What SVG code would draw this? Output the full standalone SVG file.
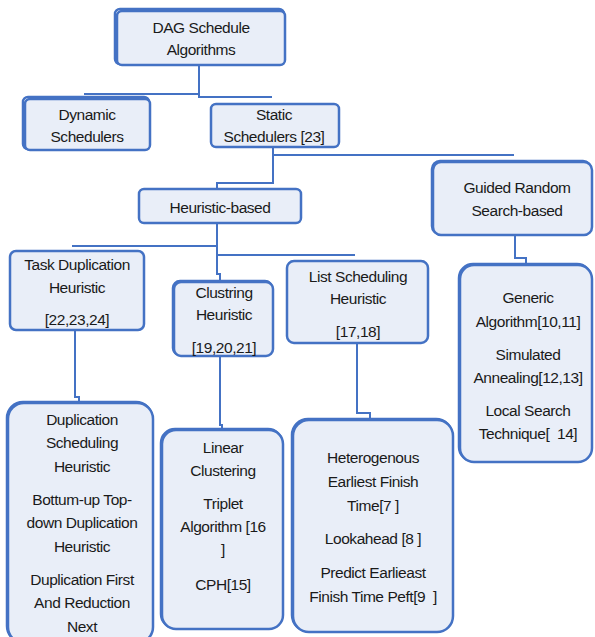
<svg xmlns="http://www.w3.org/2000/svg" width="595" height="637" viewBox="0 0 595 637">
<style>
.box{fill:#E9EEF8;stroke:#4472C4;stroke-width:2.5}
.sh{fill:none;stroke:#4472C4;stroke-width:2.5}
.c{fill:none;stroke:#4472C4;stroke-width:2}
text{font-family:"Liberation Sans",Arial,sans-serif;font-size:15.5px;letter-spacing:-0.45px;fill:#1a1a1a;text-anchor:middle;white-space:pre}
</style>
<rect width="595" height="637" fill="#ffffff"/>
<g id="connectors">
<path class="c" d="M199 65 V94 H84 M199 94 V97 H272"/>
<path class="c" d="M273 147 V183 H217 V190 M273 155 H514"/>
<path class="c" d="M217 223 V274 H220 V282 M72 246 H217 M217 255 H355"/>
<path class="c" d="M75 330 V397 H79 V403"/>
<path class="c" d="M220 356 V425 H222 V430"/>
<path class="c" d="M357 343 V413 H370 V420"/>
<path class="c" d="M515 235 V258 H526 V265"/>
</g>
<g id="n-root">
<rect class="sh" x="116" y="10" width="169" height="55" rx="5" transform="translate(-1,-1)"/>
<rect class="box" x="117" y="11" width="168" height="54" rx="5"/>
<text x="201" y="33">DAG Schedule</text>
<text x="201" y="55">Algorithms</text>
</g>
<g id="n-dynamic">
<rect class="sh" x="24" y="98" width="126" height="52" rx="5" transform="translate(-1,-1)"/>
<rect class="box" x="25" y="99" width="125" height="51" rx="5"/>
<text x="87" y="120">Dynamic</text>
<text x="87" y="142">Schedulers</text>
</g>
<g id="n-static">
<rect class="box" x="211" y="104" width="128" height="43" rx="5"/>
<text x="274" y="120">Static</text>
<text x="274" y="142">Schedulers [23]</text>
</g>
<g id="n-guided">
<rect class="sh" x="433" y="162" width="159" height="73" rx="8" transform="translate(-1,-1)"/>
<rect class="box" x="433" y="162" width="159" height="73" rx="8"/>
<text x="517" y="193">Guided Random</text>
<text x="517" y="216">Search-based</text>
</g>
<g id="n-heuristic">
<rect class="box" x="139" y="189" width="162" height="34" rx="5"/>
<text x="220" y="213">Heuristic-based</text>
</g>
<g id="n-taskdup">
<rect class="box" x="10" y="251" width="134" height="79" rx="6"/>
<text x="77" y="270">Task Duplication</text>
<text x="77" y="293">Heuristic</text>
<text x="77" y="325">[22,23,24]</text>
</g>
<g id="n-clustering">
<rect class="sh" x="174" y="282" width="99" height="74" rx="7" transform="translate(-1,-1)"/>
<rect class="box" x="174" y="282" width="99" height="74" rx="7"/>
<text x="224" y="298">Clustring</text>
<text x="224" y="320">Heuristic</text>
<text x="224" y="353">[19,20,21]</text>
</g>
<g id="n-list">
<rect class="box" x="287" y="261" width="141" height="82" rx="7"/>
<text x="358" y="282">List Scheduling</text>
<text x="358" y="304">Heuristic</text>
<text x="358" y="337">[17,18]</text>
</g>
<g id="n-guided-list">
<rect class="sh" x="460" y="265" width="132" height="197" rx="14" transform="translate(-1,-1)"/>
<rect class="box" x="460" y="265" width="132" height="197" rx="14"/>
<text x="528" y="303">Generic</text>
<text x="528" y="327">Algorithm[10,11]</text>
<text x="528" y="360">Simulated</text>
<text x="528" y="383">Annealing[12,13]</text>
<text x="528" y="416">Local Search</text>
<text x="528" y="439" xml:space="preserve">Technique[  14]</text>
</g>
<g id="n-dup-list">
<rect class="sh" x="8" y="403" width="145" height="240" rx="16" transform="translate(-1,-1)"/>
<rect class="box" x="8" y="403" width="145" height="240" rx="16"/>
<text x="82" y="425">Duplication</text>
<text x="82" y="448">Scheduling</text>
<text x="82" y="472">Heuristic</text>
<text x="82" y="505">Bottum-up Top-</text>
<text x="82" y="528">down Duplication</text>
<text x="82" y="552">Heuristic</text>
<text x="82" y="585">Duplication First</text>
<text x="82" y="608">And Reduction</text>
<text x="82" y="632">Next</text>
</g>
<g id="n-cluster-list">
<rect class="sh" x="162" y="430" width="121" height="199" rx="14" transform="translate(-1,-1)"/>
<rect class="box" x="162" y="430" width="121" height="199" rx="14"/>
<text x="223" y="453">Linear</text>
<text x="223" y="476">Clustering</text>
<text x="223" y="509">Triplet</text>
<text x="223" y="532">Algorithm [16</text>
<text x="223" y="555">]</text>
<text x="223" y="590">CPH[15]</text>
</g>
<g id="n-list-list">
<rect class="sh" x="293" y="420" width="160" height="212" rx="16" transform="translate(-1,-1)"/>
<rect class="box" x="293" y="420" width="160" height="212" rx="16"/>
<text x="373" y="463">Heterogenous</text>
<text x="373" y="487">Earliest Finish</text>
<text x="373" y="511">Time[7 ]</text>
<text x="373" y="544">Lookahead [8 ]</text>
<text x="373" y="578">Predict Earlieast</text>
<text x="373" y="602" xml:space="preserve">Finish Time Peft[9  ]</text>
</g>
</svg>
